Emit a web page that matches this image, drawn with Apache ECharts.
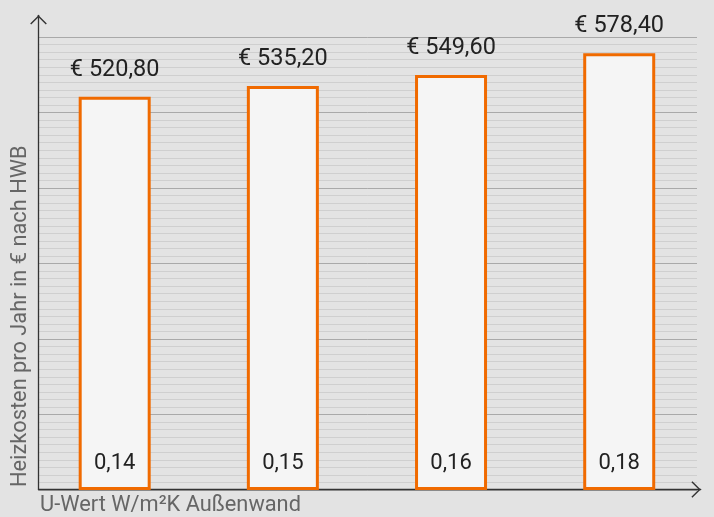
<!DOCTYPE html>
<html>
<head>
<meta charset="utf-8">
<script src="https://cdn.jsdelivr.net/npm/echarts@6/dist/echarts.min.js"></script>
<style>
html,body{margin:0;padding:0;background:#e3e3e3;}
#c{width:714px;height:517px;}
</style>
</head>
<body>
<div id="c"></div>
<script>
// ---- data ----
const categories = ['0,14', '0,15', '0,16', '0,18'];
const costs = [520.80, 535.20, 549.60, 578.40];
const yTicks = [0, 100, 200, 300, 400, 500, 600];
const yAxisTitle = 'Heizkosten pro Jahr in € nach HWB';
const xAxisTitle = 'U-Wert W/m²K Außenwand';

const FONT = 'Roboto';
const chevron = 'path://M0,8.3 L8.3,0 L16.6,8.3 L15.6,9.3 L8.3,2 L1,9.3 Z';

const chart = echarts.init(document.getElementById('c'), null, {renderer: 'canvas'});
const fmtEuro = v => '€ ' + v.toFixed(2).replace('.', ',');

chart.setOption({
  backgroundColor: '#e3e3e3',
  animation: false,
  grid: [
    {left: 30.6, right: 10.7, top: 37, bottom: 27},   // data
    {left: 38.5, right: 17, top: 37, bottom: 27},     // split lines
    {left: 38.5, right: 13.3, top: 15.3, bottom: 27.5}  // axis frame
  ],
  xAxis: [
    {
      gridIndex: 0, type: 'category', data: categories, z: 5,
      axisLine: {show: false}, axisTick: {show: false},
      axisLabel: {inside: true, margin: 16, fontFamily: FONT, fontSize: 22, color: '#222'}
    },
    {gridIndex: 1, type: 'value', show: false, min: 0, max: 1},
    {
      gridIndex: 2, type: 'value', min: 0, max: 1,
      axisLine: {show: true, lineStyle: {color: '#333', width: 1.3},
        symbol: ['none', chevron], symbolSize: [16.6, 9.3], symbolOffset: [0, -4.65]},
      axisTick: {show: false}, axisLabel: {show: false}, splitLine: {show: false}
    }
  ],
  yAxis: [
    {gridIndex: 0, type: 'value', min: yTicks[0], max: yTicks[yTicks.length - 1], show: false},
    {
      gridIndex: 1, type: 'value', min: yTicks[0], max: yTicks[yTicks.length - 1],
      interval: yTicks[1] - yTicks[0],
      axisLine: {show: false}, axisTick: {show: false}, axisLabel: {show: false},
      splitLine: {show: true, lineStyle: {color: '#a9a9a9', width: 1}},
      minorTick: {show: false, splitNumber: 10},
      minorSplitLine: {show: true, lineStyle: {color: '#cfcfcf', width: 1}}
    },
    {
      gridIndex: 2, type: 'value', min: 0, max: 1,
      axisLine: {show: true, lineStyle: {color: '#333', width: 1.3},
        symbol: ['none', chevron], symbolSize: [16.6, 9.3], symbolOffset: [0, -4.65]},
      axisTick: {show: false}, axisLabel: {show: false}, splitLine: {show: false}
    }
  ],
  series: [{
    type: 'bar',
    xAxisIndex: 0, yAxisIndex: 0,
    data: costs,
    barWidth: 72,
    z: 3,
    itemStyle: {color: '#f5f5f5', borderColor: '#f06a00', borderWidth: 3},
    label: {
      show: true, position: 'top', distance: 14.8,
      fontFamily: FONT, fontSize: 23.5, color: '#222',
      formatter: p => fmtEuro(p.value)
    }
  }],
  graphic: [
    {
      type: 'text', x: 21, y: 487, rotation: Math.PI / 2,
      style: {text: yAxisTitle, fontFamily: FONT, fontSize: 21.8, fill: '#666',
        align: 'left', verticalAlign: 'middle'}
    },
    {
      type: 'text', x: 40, y: 506,
      style: {text: xAxisTitle, fontFamily: FONT, fontSize: 21.8, fill: '#666',
        align: 'left', verticalAlign: 'middle'}
    }
  ]
});
</script>
</body>
</html>
